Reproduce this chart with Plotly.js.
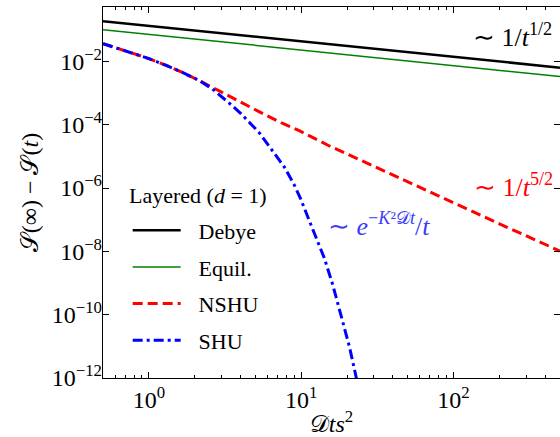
<!DOCTYPE html>
<html><head><meta charset="utf-8">
<script src="https://cdn.plot.ly/plotly-3.0.1.min.js"></script>
<style>html,body{margin:0;padding:0;background:#fff}#chart{width:560px;height:437px}</style>
</head><body><div id="chart"></div>
<script>
// ---- data ----
const debyeT = [0.5, 1, 2, 5, 10, 20, 50, 100, 200, 500];
const debyeS = [0.186, 0.132, 0.0933, 0.0603, 0.0427, 0.0302, 0.0191, 0.0135, 0.00955, 0.00631];

const equilT = [0.5, 1, 2, 5, 10, 20, 50, 100, 200, 500];
const equilS = [0.100, 0.0708, 0.0501, 0.0324, 0.0229, 0.0162, 0.0102, 0.00724, 0.00513, 0.00331];

const nshuT = [0.5, 0.78, 1, 1.3, 1.66, 2.13, 2.75, 3.53, 4.55, 5.86, 7.5, 9.7, 15, 26.7, 50, 100, 200, 500];
const nshuS = [0.0363, 0.0186, 0.01222, 0.00741, 0.00447, 0.00251, 0.00132, 6.92e-4, 3.63e-4, 2.0e-4, 1.12e-4, 6.46e-5, 2.24e-5, 6.31e-6, 1.51e-6, 3.31e-7, 7.41e-8, 1.02e-8];

const shuT = [0.5, 0.78, 1, 1.3, 1.66, 2.13, 2.61, 3.53, 4.0, 5.3, 7.73, 9.0, 9.95, 11.9, 14.2, 16.1, 18.2, 20.7, 22.9, 24];
const shuS = [0.0363, 0.0186, 0.01222, 0.00741, 0.00447, 0.00251, 0.00135, 3.98e-4, 2.29e-4, 5.62e-5, 4.68e-6, 1.26e-6, 4.37e-7, 5.01e-8, 6.03e-9, 8.91e-10, 1.05e-10, 1.0e-11, 1.12e-12, 3.55e-13];

const xTickVals = [1, 10, 100];
const xTickText = ['10<sup>0</sup>', '10<sup>1</sup>', '10<sup>2</sup>'];
const yTickVals = [1e-12, 1e-10, 1e-8, 1e-6, 1e-4, 1e-2];
const yTickText = ['10<sup>\u221212</sup>', '10<sup>\u221210</sup>', '10<sup>\u22128</sup>', '10<sup>\u22126</sup>', '10<sup>\u22124</sup>', '10<sup>\u22122</sup>'];

const seriesNames = ['Debye', 'Equil.', 'NSHU', 'SHU'];
const legendTitle = 'Layered (<i>d</i> = 1)';
const xTitle = '\uD835\uDC9F<i>ts</i><sup>2</sup>';
const yTitle = '\uD835\uDCAE(\u221E) \u2212 \uD835\uDCAE(<i>t</i>)';

// ---- minor ticks (x) ----
const xMinor = [];
for (let d = -1; d <= 2; d++) for (let m = 2; m <= 9; m++) {
  const v = m * Math.pow(10, d);
  if (v >= 0.5 && v <= 500) xMinor.push(v);
}

const serif = 'Liberation Serif, Times New Roman, serif';
const pad = '\u2002\u200A';

const traces = [
  {x: debyeT, y: debyeS, name: pad + seriesNames[0], legendgroup: 'a', mode: 'lines', line: {color: '#000000', width: 2.5}},
  {x: equilT, y: equilS, name: pad + seriesNames[1], legendgroup: 'b', mode: 'lines', line: {color: '#008000', width: 1.5}},
  {x: nshuT, y: nshuS, name: pad + seriesNames[2], legendgroup: 'c', mode: 'lines', line: {color: '#ff0000', width: 3, dash: '10px,5px'}},
  {x: shuT, y: shuS, name: pad + seriesNames[3], legendgroup: 'd', mode: 'lines', line: {color: '#0000ff', width: 3, dash: '10px,4px,3px,4px'}}
];

const axisCommon = {
  type: 'log', showgrid: false, zeroline: false,
  showline: true, linecolor: '#000', linewidth: 1.2, mirror: 'allticks',
  ticks: 'inside', ticklen: 6, tickwidth: 1, tickcolor: '#000',
  tickfont: {family: serif, size: 24, color: '#000'}
};

const layout = {
  width: 560, height: 437,
  margin: {l: 103, r: 0, t: 7, b: 59},
  paper_bgcolor: '#fff', plot_bgcolor: '#fff',
  showlegend: true,
  xaxis: Object.assign({}, axisCommon, {
    range: [Math.log10(0.5), Math.log10(500)],
    tickmode: 'array', tickvals: xTickVals, ticktext: xTickText,
    minor: {tickmode: 'array', tickvals: xMinor, ticks: 'inside', ticklen: 3, tickwidth: 1, tickcolor: '#000'},
    title: {text: xTitle, font: {family: serif, size: 24, color: '#000'}, standoff: 8}
  }),
  yaxis: Object.assign({}, axisCommon, {
    range: [-12, Math.log10(0.52)],
    tickmode: 'array', tickvals: yTickVals, ticktext: yTickText,
    ticklabelstandoff: -5,
    title: {text: yTitle, font: {family: serif, size: 24, color: '#000'}, standoff: 6}
  }),
  legend: {
    x: 0.054, y: 0.454, xanchor: 'left', yanchor: 'top',
    bgcolor: 'rgba(0,0,0,0)', borderwidth: 0,
    font: {family: serif, size: 22, color: '#000'},
    tracegroupgap: 5, itemwidth: 48
  },
  annotations: [
    {xref: 'paper', yref: 'paper', x: 0.052, y: 0.4906, xanchor: 'left', yanchor: 'middle', showarrow: false,
     text: legendTitle, font: {family: serif, size: 22, color: '#000'}},
    {xref: 'x', yref: 'y', x: 2.112, y: -1.18, xanchor: 'left', yanchor: 'middle', showarrow: false,
     text: '\u223C 1/<i>t</i><sup>1/2</sup>', font: {family: serif, size: 26, color: '#000'}},
    {xref: 'x', yref: 'y', x: 2.118, y: -5.91, xanchor: 'left', yanchor: 'middle', showarrow: false,
     text: '\u223C 1/<i>t</i><sup>5/2</sup>', font: {family: serif, size: 26, color: '#ff0000'}},
    {xref: 'x', yref: 'y', x: 1.165, y: -7.14, xanchor: 'left', yanchor: 'middle', showarrow: false,
     text: '\u223C <i>e</i><sup>\u2212<i>K</i>\u00B2\uD835\uDC9F<i>t</i></sup>/<i>t</i>', font: {family: serif, size: 26, color: '#3c3cf5'}}
  ]
};

Plotly.newPlot('chart', traces, layout, {staticPlot: true, displayModeBar: false});
</script>
</body></html>
